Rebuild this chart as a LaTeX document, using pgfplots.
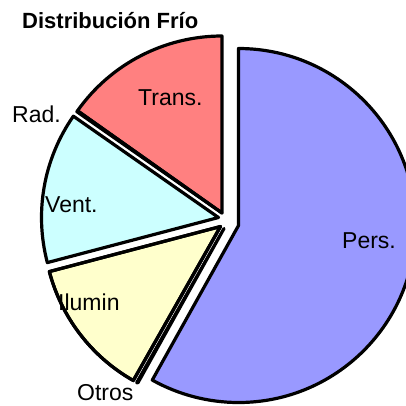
\documentclass[border=0pt]{standalone}
\usepackage{pgfplots}
\pgfplotsset{compat=1.18}
\usepackage{fontspec}
\setmainfont{Liberation Sans}

\definecolor{cPers}{HTML}{9999FF}
\definecolor{cIlum}{HTML}{FFFFCC}
\definecolor{cVent}{HTML}{CCFFFF}
\definecolor{cTrans}{HTML}{FF8080}

% one exploded pie slice, drawn clockwise from 12 o'clock
% #2,#3 = vertex (pixels, y down), #4 = share before (%), #5 = share (%), #6 = colour
\newcommand{\slice}[6][]{%
  \filldraw[fill=#6, draw=black, line width=3.2pt, line join=round, #1]
    (axis cs:#2,#3) -- ++({90-3.6*(#4)}:177pt)
    arc[start angle={90-3.6*(#4)}, end angle={90-3.6*(#4+#5)}, radius=177pt]
    -- cycle;}

\begin{document}
\begin{tikzpicture}
\begin{axis}[
    name=pie,
    x=1pt, y=1pt,
    xmin=0, xmax=406,
    ymin=0, ymax=405,
    y dir=reverse,
    hide axis,
    clip=true,
    scale only axis,
]
% shares in %: Pers 58.1, Otros 0.1, Ilumin 12.7, Vent. 13.8, Rad. 0.1, Trans. 15.2
\slice{238.5}{225.5}{0}{58.1}{cPers}
\slice{224}{228.5}{58.1}{0.1}{white}
\slice{220.5}{226.5}{58.2}{12.7}{cIlum}
\slice{218.5}{217.5}{70.9}{13.8}{cVent}
\slice{222}{213}{84.8}{15.2}{cTrans}
\slice{222}{213}{84.7}{0.1}{white}

\node[anchor=base west, inner sep=0pt, font=\fontsize{22}{26}\selectfont\bfseries]
  at (axis cs:22,28.5) {Distribución Frío};
\node[anchor=base west, inner sep=0pt, font=\fontsize{23}{27}\selectfont]
  at (axis cs:138,105) {Trans.};
\node[anchor=base west, inner sep=0pt, font=\fontsize{23}{27}\selectfont]
  at (axis cs:12,122) {Rad.};
\node[anchor=base west, inner sep=0pt, font=\fontsize{23}{27}\selectfont]
  at (axis cs:45,212) {Vent.};
\node[anchor=base west, inner sep=0pt, font=\fontsize{23}{27}\selectfont]
  at (axis cs:58,310.5) {Ilumin};
\node[anchor=base west, inner sep=0pt, font=\fontsize{23}{27}\selectfont]
  at (axis cs:77,400) {Otros};
\node[anchor=base west, inner sep=0pt, font=\fontsize{23}{27}\selectfont]
  at (axis cs:342,248) {Pers.};
% outline of Ilumin over its label, as in the original
\slice[fill=none]{220.5}{226.5}{58.2}{12.7}{cIlum}
\end{axis}
\pgfresetboundingbox
\path (pie.south west) rectangle (pie.north east);
\end{tikzpicture}
\end{document}
